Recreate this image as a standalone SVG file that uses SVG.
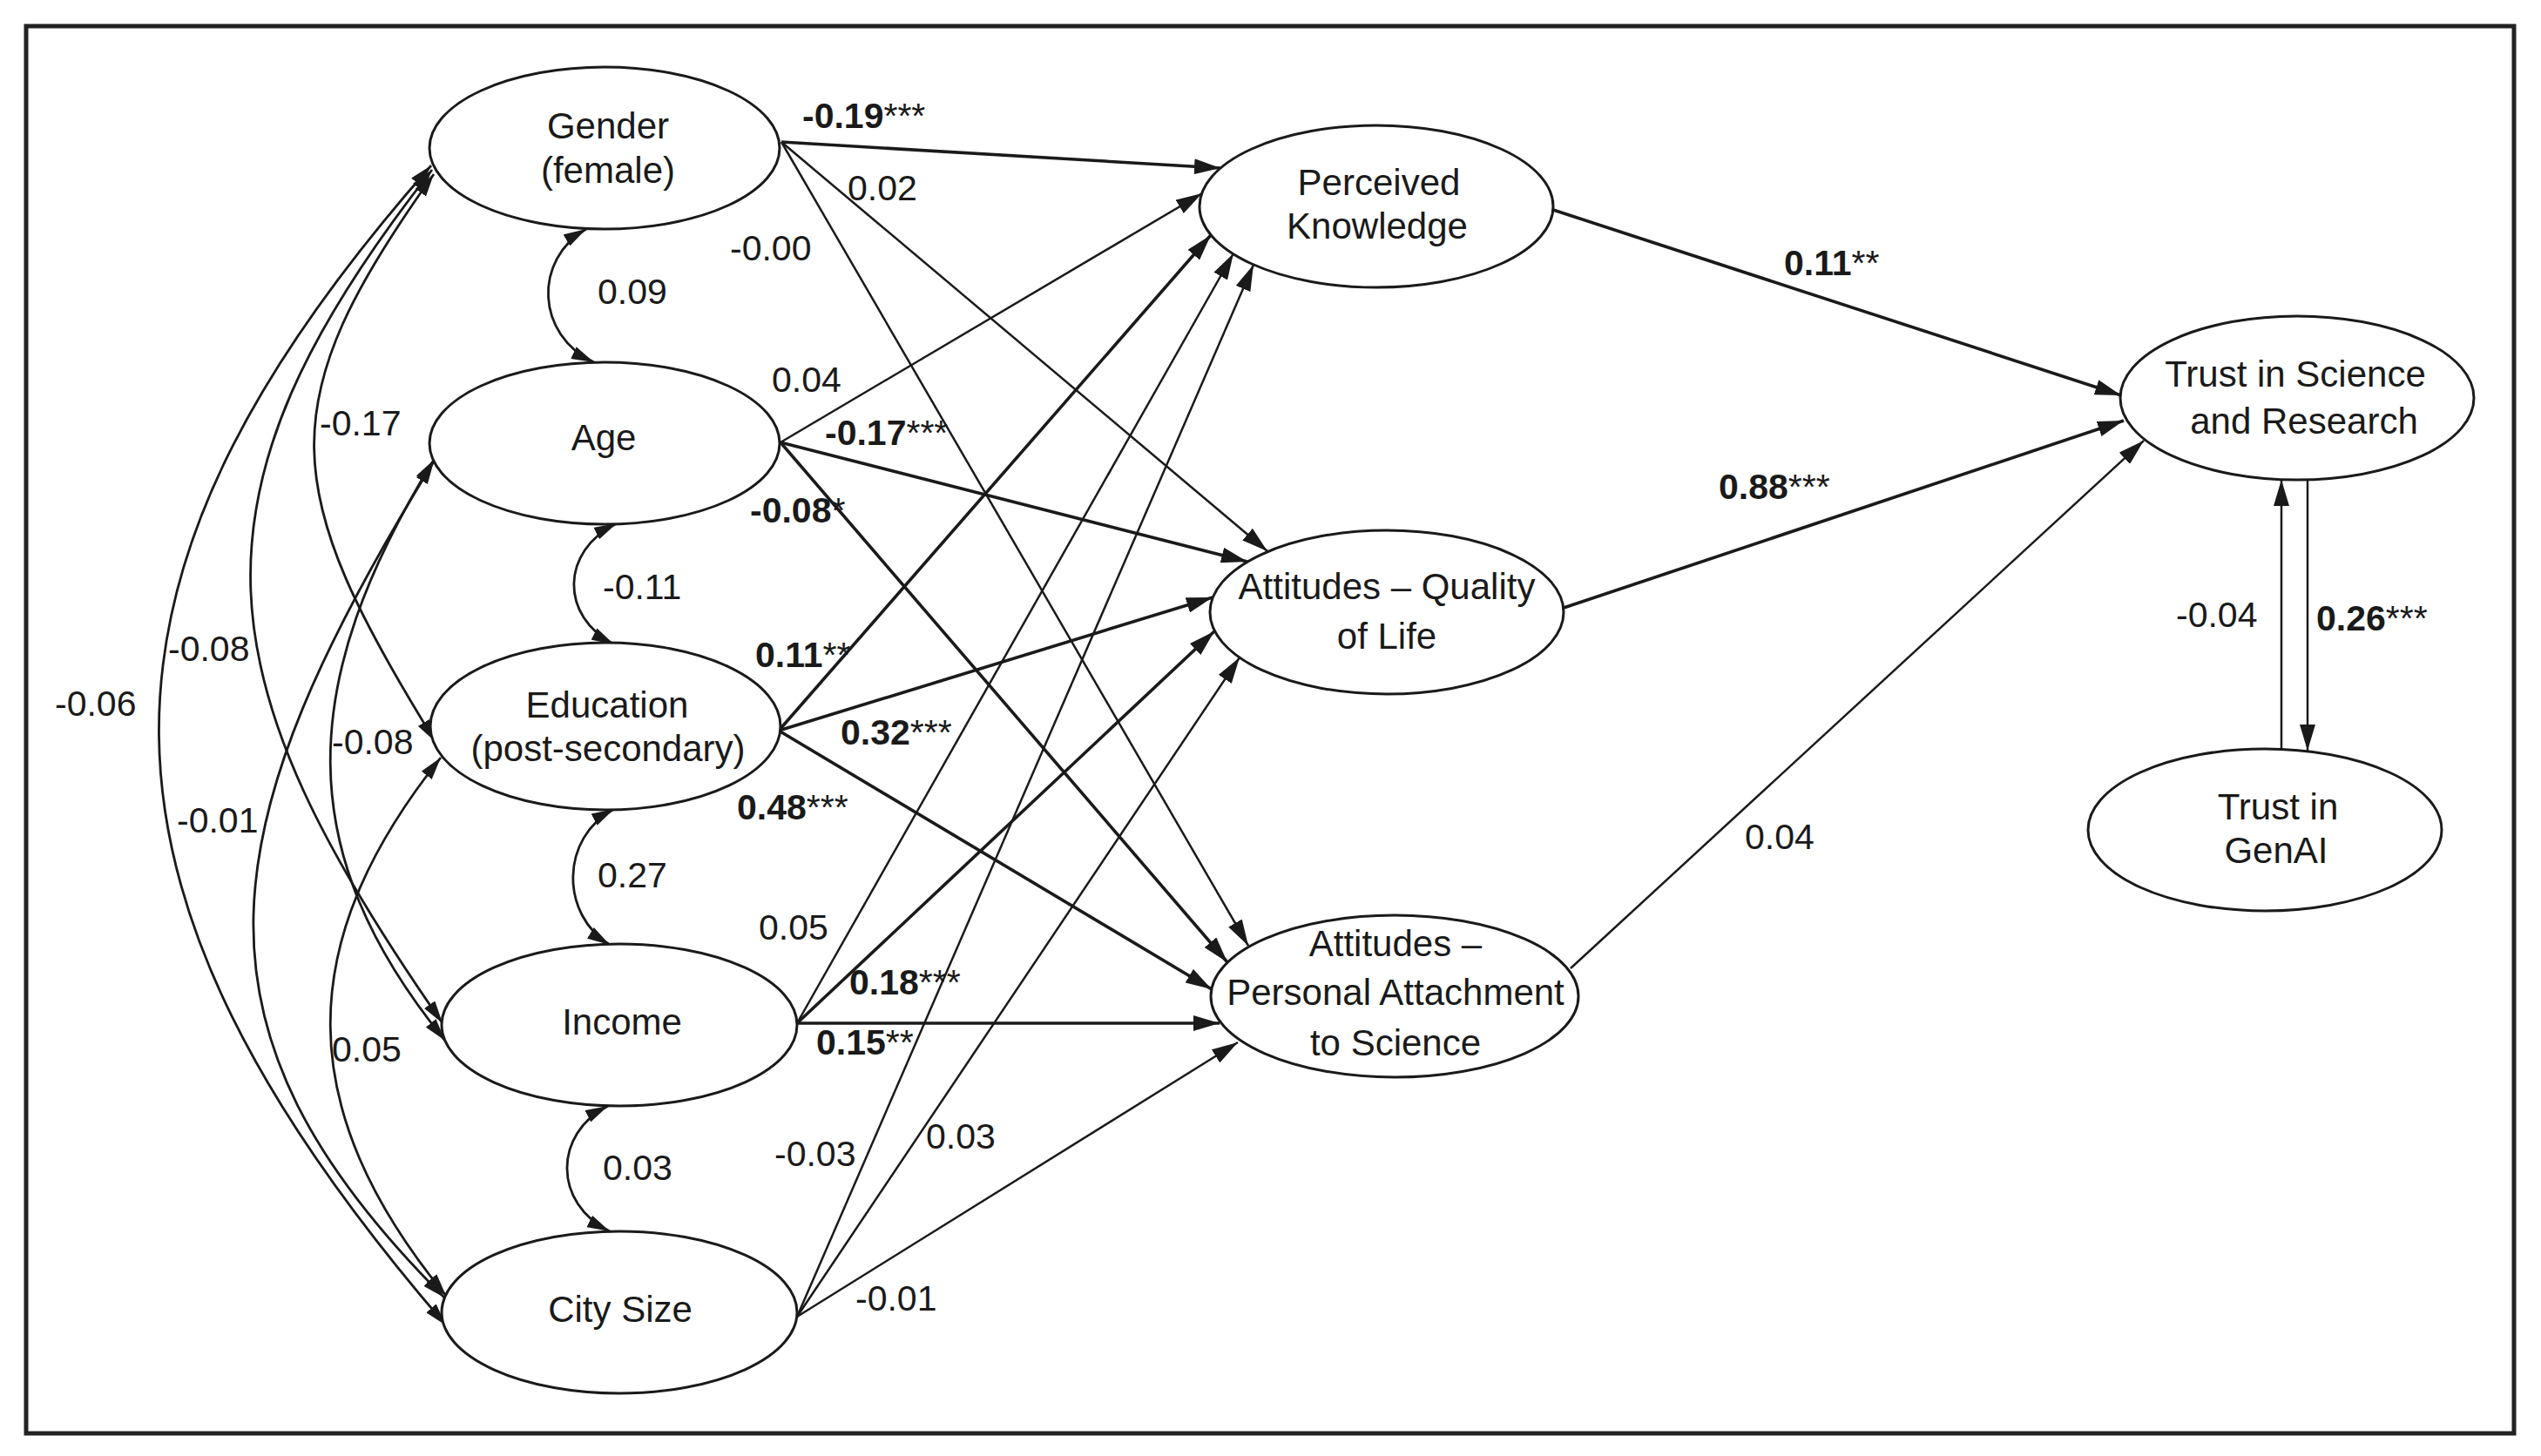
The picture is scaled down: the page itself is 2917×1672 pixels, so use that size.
<svg xmlns="http://www.w3.org/2000/svg" width="2917" height="1672" viewBox="0 0 2917 1672">
<style>
  .bg { fill: #ffffff; }
  .frame { fill: none; stroke: #222; stroke-width: 5; }
  .node ellipse { fill: #ffffff; stroke: #1a1a1a; stroke-width: 3; }
  .node text { font-family: "Liberation Sans", Arial, sans-serif; font-size: 42px; fill: #1a1a1a; text-anchor: middle; }
  .conn path, .conn line { fill: none; stroke: #1a1a1a; }
  .thin { stroke-width: 2.5; }
  .thick { stroke-width: 3.6; }
  .cov { stroke-width: 2.8; }
  .lbl text { font-family: "Liberation Sans", Arial, sans-serif; font-size: 41px; fill: #1a1a1a; }
  .lbl text.b { font-weight: bold; }
  .lbl tspan.s { font-weight: normal; }
</style>
<defs>
  <marker id="ah" viewBox="0 0 30 18" refX="30" refY="9" markerWidth="30" markerHeight="18" markerUnits="userSpaceOnUse" orient="auto-start-reverse">
    <path d="M0,0 L30,9 L0,18 z" fill="#1a1a1a"/>
  </marker>
  <marker id="ahs" viewBox="0 0 26 15" refX="26" refY="7.5" markerWidth="26" markerHeight="15" markerUnits="userSpaceOnUse" orient="auto-start-reverse">
    <path d="M0,0 L26,7.5 L0,15 z" fill="#1a1a1a"/>
  </marker>
</defs>
<rect class="bg" x="0" y="0" width="2917" height="1672"/>
<rect class="frame" x="30" y="30" width="2856" height="1616"/>

<g id="connectors" class="conn">
  <!-- Gender paths -->
  <line class="thick" x1="897" y1="163" x2="1401" y2="193" marker-end="url(#ah)"/>
  <line class="thin" x1="897" y1="163" x2="1455" y2="633" marker-end="url(#ah)"/>
  <line class="thin" x1="897" y1="163" x2="1433" y2="1086" marker-end="url(#ah)"/>
  <!-- Age paths -->
  <line class="thin" x1="896" y1="508" x2="1380" y2="222" marker-end="url(#ah)"/>
  <line class="thick" x1="896" y1="508" x2="1432" y2="645" marker-end="url(#ah)"/>
  <line class="thick" x1="896" y1="508" x2="1409" y2="1105" marker-end="url(#ah)"/>
  <!-- Education paths -->
  <line class="thick" x1="894" y1="839" x2="1390" y2="270" marker-end="url(#ah)"/>
  <line class="thick" x1="894" y1="839" x2="1392" y2="686" marker-end="url(#ah)"/>
  <line class="thick" x1="894" y1="839" x2="1391" y2="1136" marker-end="url(#ah)"/>
  <!-- Income paths -->
  <line class="thin" x1="915" y1="1175" x2="1416" y2="291" marker-end="url(#ah)"/>
  <line class="thick" x1="915" y1="1175" x2="1394" y2="725" marker-end="url(#ah)"/>
  <line class="thick" x1="915" y1="1175" x2="1400" y2="1175" marker-end="url(#ah)"/>
  <!-- City paths -->
  <line class="thin" x1="915" y1="1512" x2="1439" y2="304" marker-end="url(#ah)"/>
  <line class="thin" x1="915" y1="1512" x2="1423" y2="755" marker-end="url(#ah)"/>
  <line class="thin" x1="915" y1="1512" x2="1421" y2="1197" marker-end="url(#ah)"/>
  <!-- Mediators to Trust -->
  <line class="thick" x1="1783" y1="241" x2="2435" y2="454" marker-end="url(#ah)"/>
  <line class="thick" x1="1795" y1="698" x2="2438" y2="483" marker-end="url(#ah)"/>
  <line class="thin" x1="1803" y1="1112" x2="2461" y2="506" marker-end="url(#ah)"/>
  <!-- Trust <-> GenAI -->
  <line class="thin" x1="2619" y1="860" x2="2619" y2="551" marker-end="url(#ah)"/>
  <line class="thin" x1="2649" y1="551" x2="2649" y2="862" marker-end="url(#ah)"/>
  <!-- Adjacent covariances -->
  <path class="cov" d="M673,263 C612,298 615,385 682,416" marker-start="url(#ahs)" marker-end="url(#ahs)"/>
  <path class="cov" d="M708,601 C643,633 643,708 705,740" marker-start="url(#ahs)" marker-end="url(#ahs)"/>
  <path class="cov" d="M705,929 C643,962 643,1050 700,1085" marker-start="url(#ahs)" marker-end="url(#ahs)"/>
  <path class="cov" d="M698,1270 C635,1302 635,1382 700,1414" marker-start="url(#ahs)" marker-end="url(#ahs)"/>
  <!-- Long covariances -->
  <path class="cov" d="M495,190 C75,667 76,1016 512,1522" marker-start="url(#ahs)" marker-end="url(#ahs)"/>
  <path class="cov" d="M496,195 C200,572 233,780 508,1175" marker-start="url(#ahs)" marker-end="url(#ahs)"/>
  <path class="cov" d="M498,200 C310,463 319,560 500,852" marker-start="url(#ahs)" marker-end="url(#ahs)"/>
  <path class="cov" d="M498,528 C340,785 335,979 511,1195" marker-start="url(#ahs)" marker-end="url(#ahs)"/>
  <path class="cov" d="M498,530 C240,950 200,1180 510,1490" marker-start="url(#ahs)" marker-end="url(#ahs)"/>
  <path class="cov" d="M506,870 C336,1083 336,1273 512,1488" marker-start="url(#ahs)" marker-end="url(#ahs)"/>
</g>

<g id="node-gender" class="node">
  <ellipse cx="694" cy="170" rx="201" ry="93"/>
  <text x="698" y="159">Gender</text>
  <text x="698" y="210">(female)</text>
</g>
<g id="node-age" class="node">
  <ellipse cx="694" cy="509" rx="201" ry="93"/>
  <text x="693" y="517">Age</text>
</g>
<g id="node-education" class="node">
  <ellipse cx="695" cy="834" rx="201" ry="96"/>
  <text x="697" y="824">Education</text>
  <text x="698" y="874">(post-secondary)</text>
</g>
<g id="node-income" class="node">
  <ellipse cx="711" cy="1177" rx="204" ry="93"/>
  <text x="714" y="1188">Income</text>
</g>
<g id="node-city" class="node">
  <ellipse cx="711" cy="1507" rx="204" ry="93"/>
  <text x="712" y="1518">City Size</text>
</g>
<g id="node-knowledge" class="node">
  <ellipse cx="1580" cy="237" rx="203" ry="93"/>
  <text x="1583" y="224">Perceived</text>
  <text x="1581" y="274">Knowledge</text>
</g>
<g id="node-quality" class="node">
  <ellipse cx="1592" cy="703" rx="203" ry="94"/>
  <text x="1592" y="688">Attitudes – Quality</text>
  <text x="1592" y="745">of Life</text>
</g>
<g id="node-attachment" class="node">
  <ellipse cx="1601" cy="1144" rx="211" ry="93"/>
  <text x="1602" y="1098">Attitudes –</text>
  <text x="1602" y="1154">Personal Attachment</text>
  <text x="1602" y="1212">to Science</text>
</g>
<g id="node-trust" class="node">
  <ellipse cx="2637" cy="457" rx="203" ry="94"/>
  <text x="2635" y="444">Trust in Science</text>
  <text x="2645" y="498">and Research</text>
</g>
<g id="node-genai" class="node">
  <ellipse cx="2600" cy="953" rx="203" ry="93"/>
  <text x="2615" y="941">Trust in</text>
  <text x="2613" y="991">GenAI</text>
</g>

<g id="labels" class="lbl">
  <text class="b" x="921" y="147">-0.19<tspan class="s">***</tspan></text>
  <text x="973" y="230">0.02</text>
  <text x="838" y="299">-0.00</text>
  <text x="686" y="349">0.09</text>
  <text x="886" y="450">0.04</text>
  <text class="b" x="947" y="511">-0.17<tspan class="s">***</tspan></text>
  <text class="b" x="861" y="600">-0.08<tspan class="s">*</tspan></text>
  <text x="367" y="500">-0.17</text>
  <text x="692" y="688">-0.11</text>
  <text class="b" x="867" y="766">0.11<tspan class="s">**</tspan></text>
  <text class="b" x="965" y="855">0.32<tspan class="s">***</tspan></text>
  <text class="b" x="846" y="941">0.48<tspan class="s">***</tspan></text>
  <text x="193" y="759">-0.08</text>
  <text x="63" y="822">-0.06</text>
  <text x="381" y="866">-0.08</text>
  <text x="203" y="956">-0.01</text>
  <text x="686" y="1019">0.27</text>
  <text x="871" y="1079">0.05</text>
  <text class="b" x="975" y="1142">0.18<tspan class="s">***</tspan></text>
  <text class="b" x="937" y="1211">0.15<tspan class="s">**</tspan></text>
  <text x="381" y="1219">0.05</text>
  <text x="692" y="1355">0.03</text>
  <text x="889" y="1339">-0.03</text>
  <text x="1063" y="1319">0.03</text>
  <text x="982" y="1505">-0.01</text>
  <text class="b" x="2048" y="316">0.11<tspan class="s">**</tspan></text>
  <text class="b" x="1973" y="573">0.88<tspan class="s">***</tspan></text>
  <text x="2003" y="975">0.04</text>
  <text x="2498" y="720">-0.04</text>
  <text class="b" x="2659" y="724">0.26<tspan class="s">***</tspan></text>
</g>
</svg>
